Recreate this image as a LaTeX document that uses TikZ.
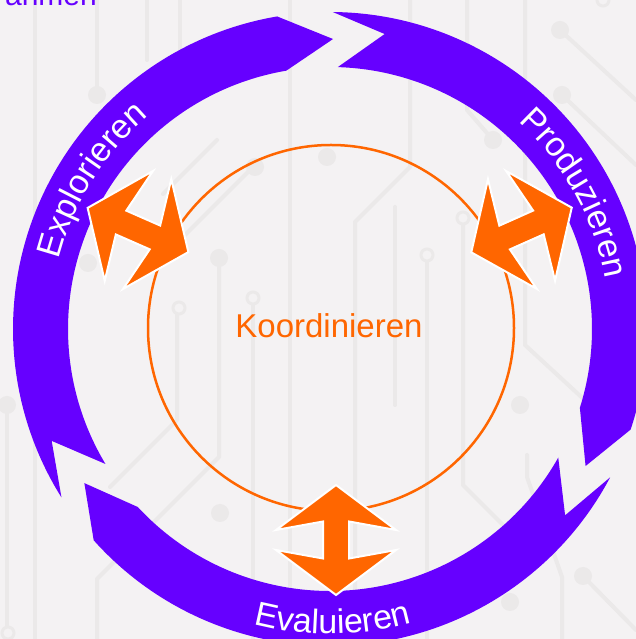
\documentclass[tikz,border=0pt]{standalone}
\usepackage{fontspec}
\setmainfont{Liberation Sans}
\usetikzlibrary{decorations.text}

\definecolor{lila}{HTML}{6600FF}
\definecolor{orangeK}{HTML}{FF6600}
\definecolor{hgrund}{HTML}{F4F2F3}
\definecolor{leiter}{HTML}{EBE9E9}

\newcommand{\ringteil}[6]{\fill[lila] (#1:317) arc[start angle=#1, end angle=#4, radius=317] -- (#6:290) -- (#5:262) arc[start angle=#5, end angle=#2, radius=262] -- (#3:300) -- cycle;}
\newcommand{\ringschrift}{\fontsize{34}{34}\selectfont}

\tikzset{
  doppelpfeil/.pic={\filldraw[fill=orangeK, draw=white, line width=2] (55,0) -- (10,60) -- (18.5,13) -- (-18.5,13) -- (-10,60) -- (-55,0) -- (-10,-60) -- (-18.5,-13) -- (18.5,-13) -- (10,-60) -- cycle;},
  leiterbahn/.style={draw=leiter, line width=4, line cap=round, line join=round},
  pad/.style={fill=leiter},
  oese/.style={draw=leiter, line width=3, fill=hgrund}
}

\begin{document}
\begin{tikzpicture}[x=1pt, y=1pt]
\fill[hgrund] (0,0) rectangle (636,639);
\useasboundingbox (0,0) rectangle (636,639);

\begin{scope}[shift={(0,639)}, yscale=-1]
  \draw[leiterbahn] (35,0) -- (35,639);
  \draw[leiterbahn] (7,405) -- (7,627);
  \draw[leiterbahn] (97,0) -- (97,95);
  \draw[leiterbahn] (147,0) -- (147,60);
  \draw[leiterbahn] (180,0) -- (180,110);
  \draw[leiterbahn] (217,140) -- (163,194);
  \draw[leiterbahn] (260,160) -- (183,237);
  \draw[leiterbahn] (219,258) -- (219,457) -- (157,519) -- (97,579) -- (97,639);
  \draw[leiterbahn] (177,308) -- (177,420) -- (110,487);
  \draw[leiterbahn] (253,298) -- (253,639);
  \draw[leiterbahn] (290,0) -- (290,639);
  \draw[leiterbahn] (410,0) -- (410,167) -- (355,222) -- (355,639);
  \draw[leiterbahn] (395,207) -- (395,405);
  \draw[leiterbahn] (427,255) -- (427,639);
  \draw[leiterbahn] (463,218) -- (463,485) -- (530,552);
  \draw[leiterbahn] (467,0) -- (467,110) -- (493,140);
  \draw[leiterbahn] (525,0) -- (525,345) -- (590,405);
  \draw[leiterbahn] (527,455) -- (527,477) -- (562,577) -- (562,639);
  \draw[leiterbahn] (560,30) -- (636,100);
  \draw[leiterbahn] (562,95) -- (636,165);
  \draw[leiterbahn] (583,576) -- (636,630);
  \foreach \p in {(97,95),(88,263),(219,258),(220,513),(327,157),(255,167),(493,140),(560,30),(562,95),(583,576),(510,602),(520,405),(7,405)}
    \fill[pad] \p circle[radius=9];
  \foreach \p in {(179,308),(253,298),(427,255),(463,218),(8,633),(603,0)}
    \draw[oese] \p circle[radius=6];
\end{scope}

\node[anchor=base east, text=lila, font=\fontsize{30}{30}\selectfont, inner sep=0] (rahmen) at (97,633) {rahmen};

\begin{scope}[shift={(330,310)}]
  \ringteil{212.1}{211}{201.9}{99.6}{99.6}{89.4}
  \ringteil{89.5}{88.3}{79.5}{-18.5}{-17.5}{-28.2}
  \ringteil{-27.9}{-29.4}{-38.4}{-138.2}{-137.2}{-147.9}
  \path[decorate, decoration={text along path, text align=center, text color=white, text={|\ringschrift|Explorieren}}] (170:280) arc[start angle=170, end angle=126, radius=280];
  \path[decorate, decoration={text along path, text align=center, text color=white, text={|\ringschrift|Produzieren}}] (51:280) arc[start angle=51, end angle=7, radius=280];
  \path[decorate, decoration={text along path, text align=center, text color=white, text={|\ringschrift|Evaluieren}}] (250:305) arc[start angle=250, end angle=291, radius=305];
\end{scope}

\draw[orangeK, line width=2.5] (331,311) circle[radius=183];
\node[text=orangeK, font=\fontsize{33}{33}\selectfont, anchor=base] (koordinieren) at (329,301) {Koordinieren};

\pic[rotate=-23.7] at (138,409) {doppelpfeil};
\pic[rotate=24] at (521.5,409) {doppelpfeil};
\pic[rotate=90] at (336,99) {doppelpfeil};
\end{tikzpicture}
\end{document}
